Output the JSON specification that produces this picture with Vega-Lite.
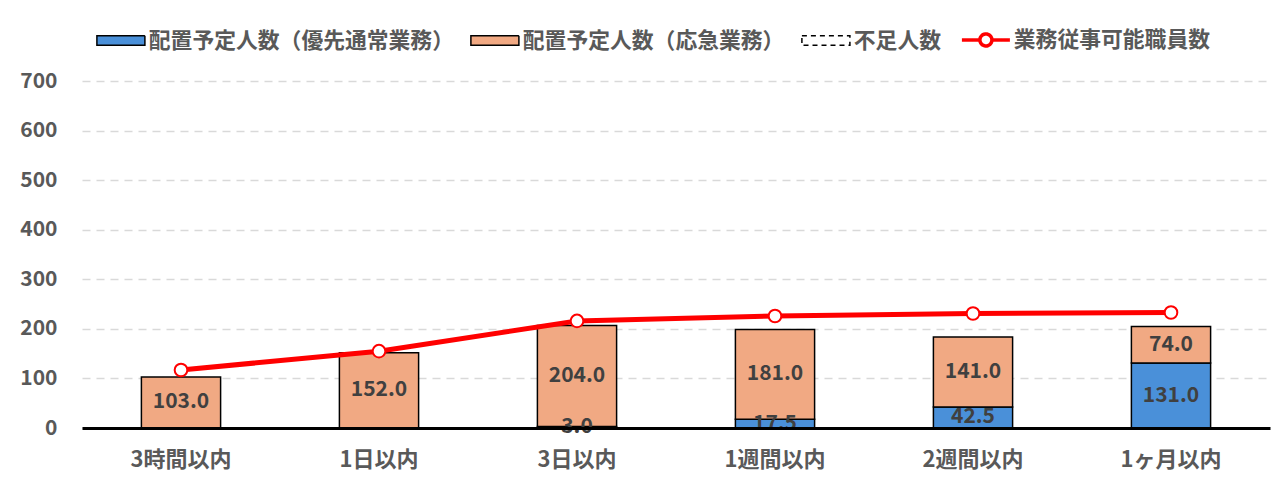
{
  "$schema": "https://vega.github.io/schema/vega-lite/v6.json",
  "width": 1188,
  "height": 347,
  "autosize": {"type": "none"},
  "padding": {"left": 82, "top": 81, "right": 11, "bottom": 51},
  "config": {
    "font": "Noto Sans CJK JP",
    "view": {"stroke": null},
    "axis": {"labelFont": "Noto Sans CJK JP", "labelFontWeight": "bold", "labelColor": "#595959", "labelFontSize": 21}
  },
  "datasets": {
    "bars": [
      {"category": "3時間以内", "series": "配置予定人数（優先通常業務）", "value": 0},
      {"category": "3時間以内", "series": "配置予定人数（応急業務）", "value": 103},
      {"category": "3時間以内", "series": "不足人数", "value": 0},
      {"category": "1日以内", "series": "配置予定人数（優先通常業務）", "value": 0},
      {"category": "1日以内", "series": "配置予定人数（応急業務）", "value": 152},
      {"category": "1日以内", "series": "不足人数", "value": 0},
      {"category": "3日以内", "series": "配置予定人数（優先通常業務）", "value": 3},
      {"category": "3日以内", "series": "配置予定人数（応急業務）", "value": 204},
      {"category": "3日以内", "series": "不足人数", "value": 0},
      {"category": "1週間以内", "series": "配置予定人数（優先通常業務）", "value": 17.5},
      {"category": "1週間以内", "series": "配置予定人数（応急業務）", "value": 181},
      {"category": "1週間以内", "series": "不足人数", "value": 0},
      {"category": "2週間以内", "series": "配置予定人数（優先通常業務）", "value": 42.5},
      {"category": "2週間以内", "series": "配置予定人数（応急業務）", "value": 141},
      {"category": "2週間以内", "series": "不足人数", "value": 0},
      {"category": "1ヶ月以内", "series": "配置予定人数（優先通常業務）", "value": 131},
      {"category": "1ヶ月以内", "series": "配置予定人数（応急業務）", "value": 74},
      {"category": "1ヶ月以内", "series": "不足人数", "value": 0}
    ],
    "line": [
      {"category": "3時間以内", "staff": 117},
      {"category": "1日以内", "staff": 155},
      {"category": "3日以内", "staff": 216},
      {"category": "1週間以内", "staff": 226},
      {"category": "2週間以内", "staff": 231},
      {"category": "1ヶ月以内", "staff": 233}
    ]
  },
  "layer": [
    {
      "data": {"name": "bars"},
      "transform": [
        {"stack": "value", "groupby": ["category"], "sort": [{"field": "series", "order": "ascending"}], "as": ["v0", "v1"]}
      ],
      "mark": {"type": "bar", "stroke": "#000000", "strokeWidth": 1.5},
      "encoding": {
        "x": {
          "field": "category", "type": "nominal",
          "sort": ["3時間以内", "1日以内", "3日以内", "1週間以内", "2週間以内", "1ヶ月以内"],
          "scale": {"paddingInner": 0.6, "paddingOuter": 0.3},
          "axis": {"title": null, "labelAngle": 0, "ticks": false, "domainColor": "#000000", "domainWidth": 3, "labelPadding": 21, "labelFontSize": 22, "zindex": 1}
        },
        "y": {
          "field": "v0", "type": "quantitative",
          "scale": {"domain": [0, 700]},
          "axis": {"title": null, "values": [0, 100, 200, 300, 400, 500, 600, 700], "ticks": false, "domain": false, "labelPadding": 25, "gridColor": "#D9D9D9", "gridDash": [8, 6], "gridWidth": 1.5}
        },
        "y2": {"field": "v1"},
        "color": {
          "field": "series", "type": "nominal",
          "sort": ["配置予定人数（優先通常業務）", "配置予定人数（応急業務）", "不足人数", "業務従事可能職員数"],
          "scale": {
            "domain": ["配置予定人数（優先通常業務）", "配置予定人数（応急業務）", "不足人数", "業務従事可能職員数"],
            "range": ["#4A90D9", "#F1A983", "#FFFFFF", "#FFFFFF"]
          },
          "legend": {
            "orient": "none", "legendX": 28, "legendY": -52, "direction": "horizontal",
            "title": null, "padding": 0, "labelLimit": 500,
            "labelFont": "Noto Sans CJK JP", "labelFontSize": 21.8, "labelFontWeight": "bold", "labelColor": "#595959",
            "symbolSize": 1024, "symbolType": "M-1.5,-0.3H1.5V0.3H-1.5Z",
            "labelOffset": 17, "columnPadding": 13,
            "encoding": {
              "symbols": {
                "shape": {"value": {"signal": "datum.value === '業務従事可能職員数' ? 'M-1.5,0H-0.375M0.375,0H1.5M-0.375,0A0.375,0.375,0,1,0,0.375,0A0.375,0.375,0,1,0,-0.375,0Z' : 'M-1.5,-0.3H1.5V0.3H-1.5Z'"}},
                "fill": {"value": {"signal": "datum.value === '配置予定人数（優先通常業務）' ? '#4A90D9' : datum.value === '配置予定人数（応急業務）' ? '#F1A983' : '#FFFFFF'"}},
                "stroke": {"value": {"signal": "datum.value === '業務従事可能職員数' ? '#FF0000' : '#000000'"}},
                "strokeWidth": {"value": {"signal": "datum.value === '業務従事可能職員数' ? 3.5 : 1.5"}},
                "strokeDash": {"value": {"signal": "datum.value === '不足人数' ? [5, 4] : [1, 0]"}},
                "opacity": {"value": 1}
              }
            }
          }
        },
        "strokeDash": {"condition": {"test": "datum.series === '不足人数'", "value": [4, 3]}, "value": [1, 0]}
      }
    },
    {
      "data": {"name": "bars"},
      "transform": [
        {"stack": "value", "groupby": ["category"], "sort": [{"field": "series", "order": "ascending"}], "as": ["v0", "v1"]},
        {"filter": "datum.value > 0"},
        {"calculate": "(datum.v0 + datum.v1) / 2", "as": "mid"}
      ],
      "mark": {"type": "text", "font": "Noto Sans CJK JP", "fontSize": 21, "fontWeight": "bold", "color": "#404040", "baseline": "middle", "align": "center"},
      "encoding": {
        "x": {"field": "category", "type": "nominal", "sort": ["3時間以内", "1日以内", "3日以内", "1週間以内", "2週間以内", "1ヶ月以内"]},
        "y": {"field": "mid", "type": "quantitative"},
        "text": {"field": "value", "type": "quantitative", "format": ".1f"}
      }
    },
    {
      "data": {"name": "line"},
      "mark": {"type": "line", "color": "#FF0000", "strokeWidth": 5, "point": {"filled": true, "fill": "#FFFFFF", "stroke": "#FF0000", "strokeWidth": 2, "size": 160}},
      "encoding": {
        "x": {"field": "category", "type": "nominal", "sort": ["3時間以内", "1日以内", "3日以内", "1週間以内", "2週間以内", "1ヶ月以内"]},
        "y": {"field": "staff", "type": "quantitative"}
      }
    }
  ]
}
